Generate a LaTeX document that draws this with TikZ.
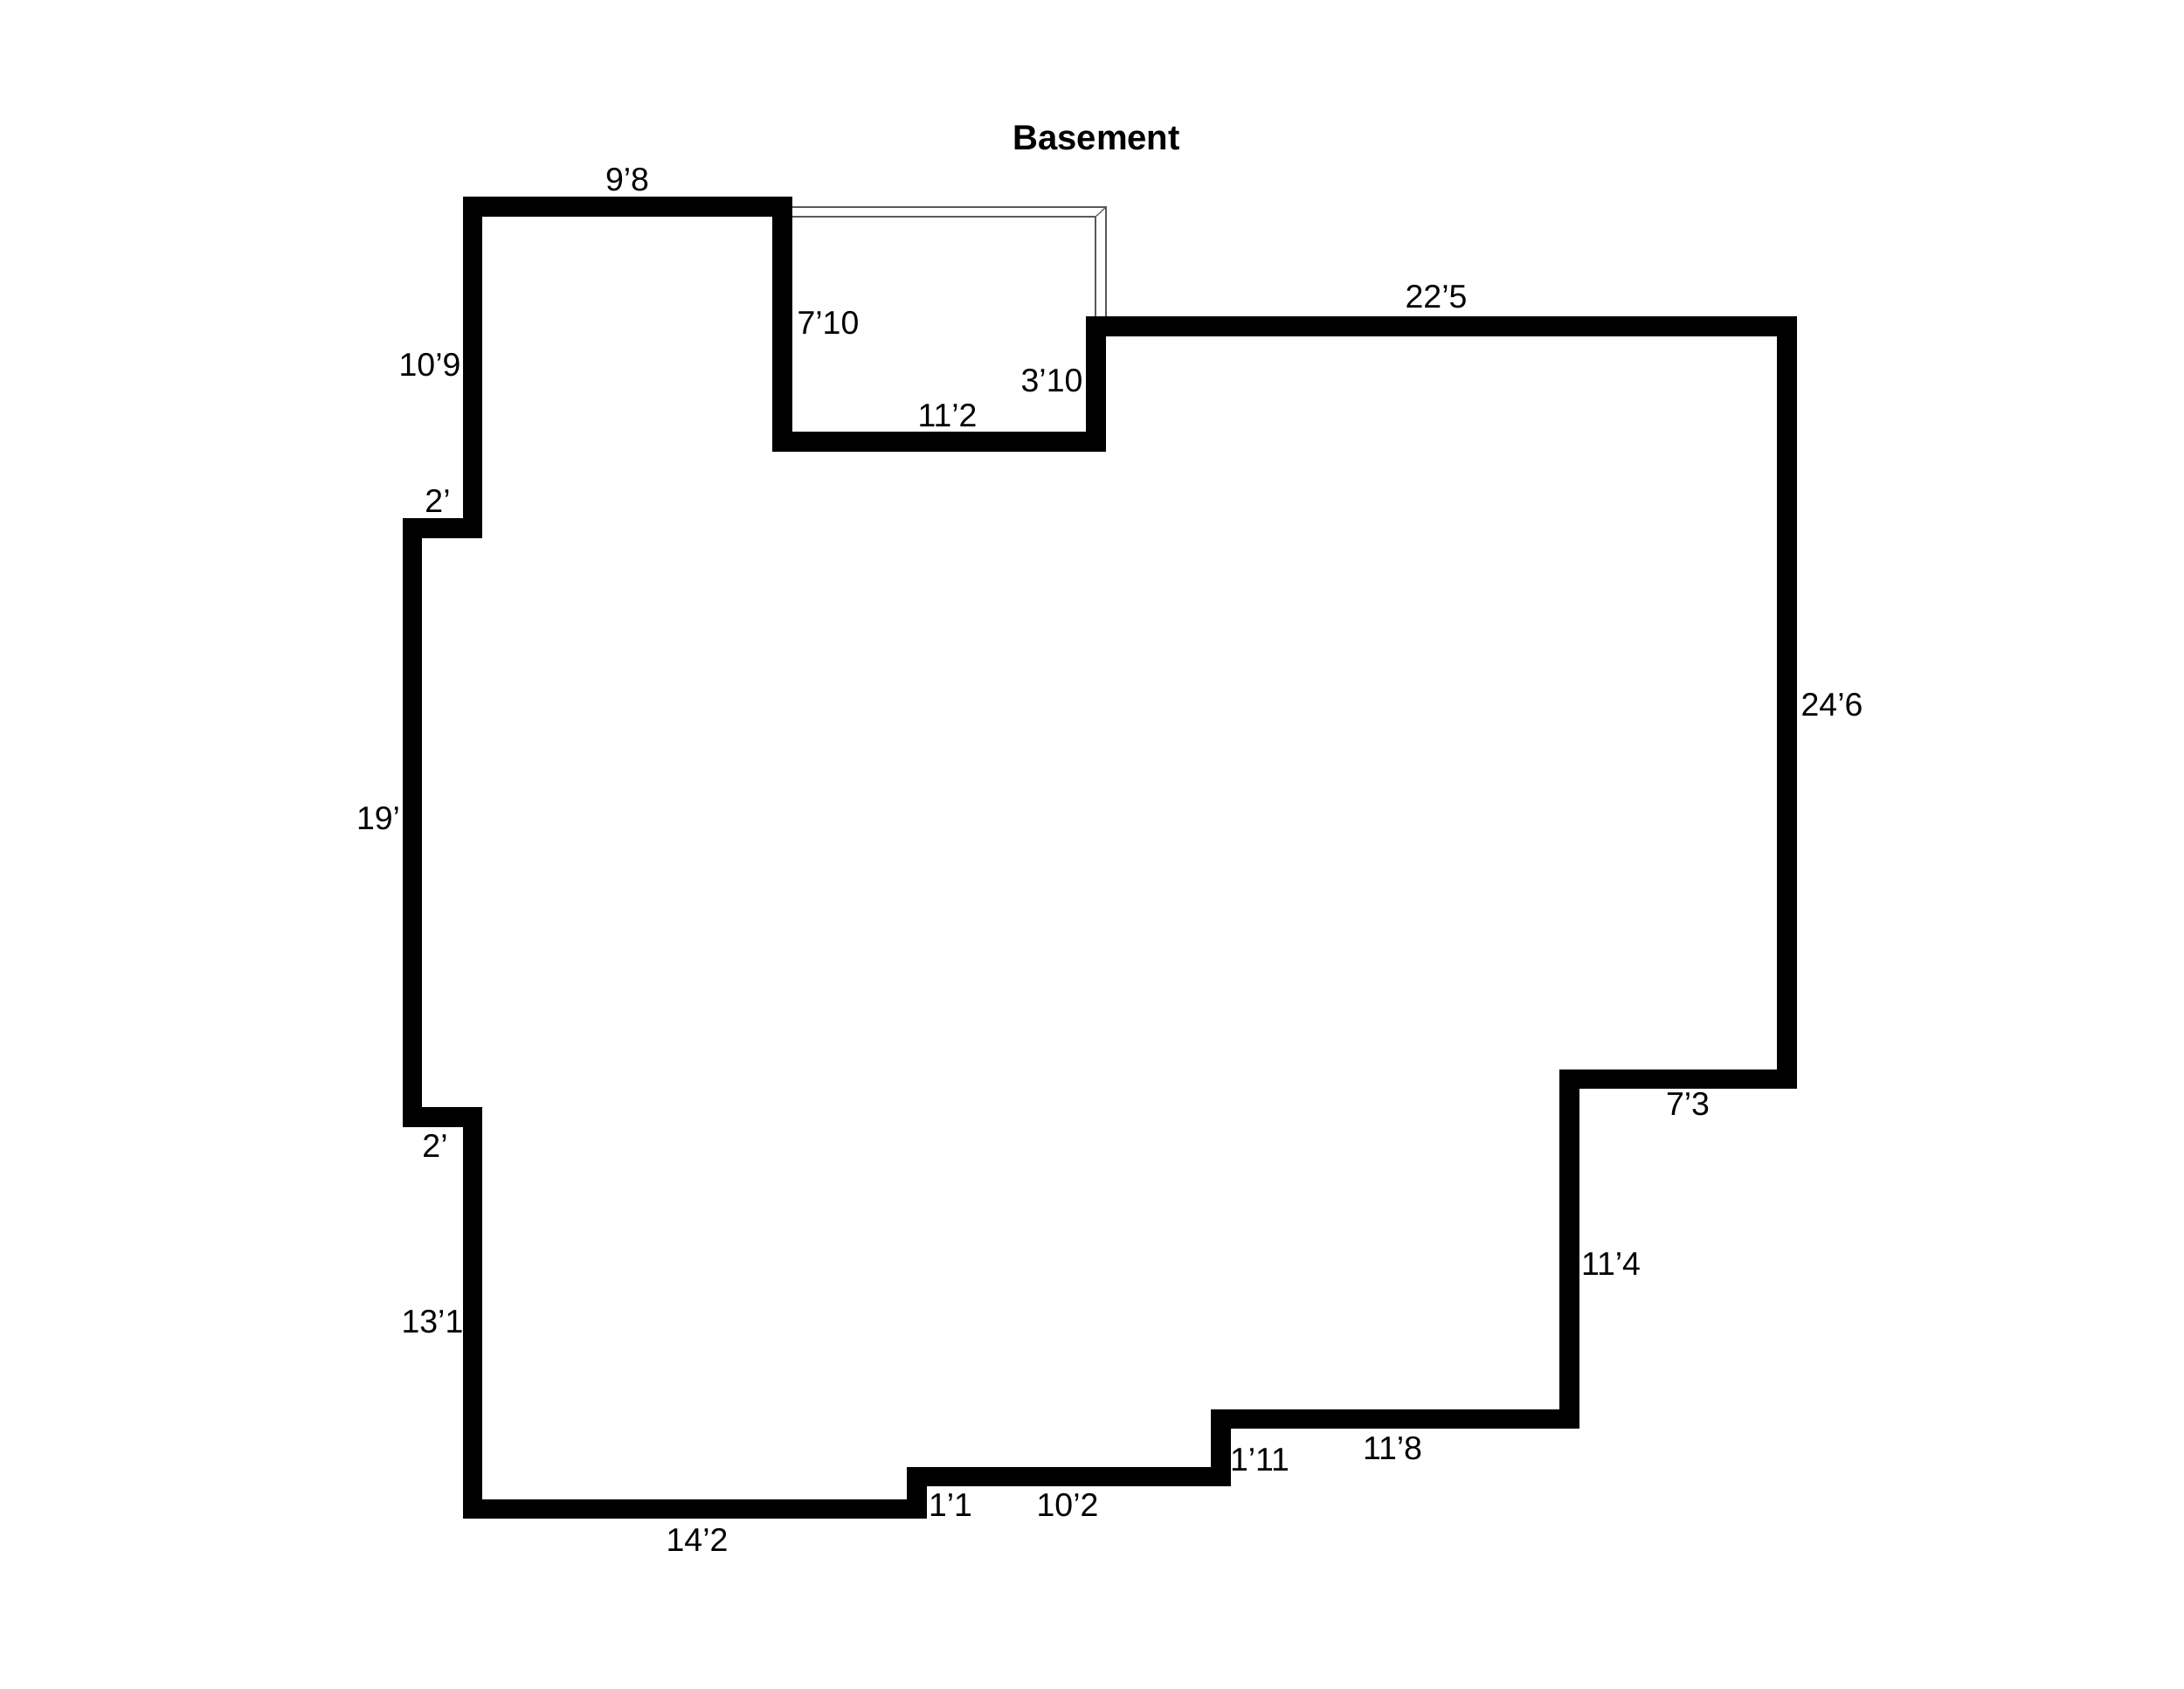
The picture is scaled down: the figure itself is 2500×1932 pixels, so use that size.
\documentclass[tikz,border=0pt]{standalone}
\usepackage{fontspec}
\setmainfont{Liberation Sans}
\usepackage{tikz}
\usetikzlibrary{calc}

\begin{document}
\begin{tikzpicture}[x=0.01cm, y=-0.01cm, wall_line/.style={line width=0.228cm,black,line join=miter}, thin_line/.style={line width=0.012cm,black!65}, dim_label/.style={inner sep=0pt,font=\fontsize{10.65pt}{12pt}\selectfont}, title_label/.style={inner sep=0pt,font=\fontsize{11.4pt}{13pt}\selectfont\bfseries}]
			
			\useasboundingbox (0,0) rectangle (2500,1932);
			
			\coordinate (c1) at (541,236.5);
			\coordinate (c2) at (895.5,236.5);
			\coordinate (c3) at (895.5,505.5);
			\coordinate (c4) at (1254.5,505.5);
			\coordinate (c5) at (1254.5,373.7);
			\coordinate (c6) at (2045.7,373.7);
			\coordinate (c7) at (2045.7,1235);
			\coordinate (c8) at (1796.7,1235);
			\coordinate (c9) at (1796.7,1624);
			\coordinate (c10) at (1397.5,1624);
			\coordinate (c11) at (1397.5,1690);
			\coordinate (c12) at (1049.5,1690);
			\coordinate (c13) at (1049.5,1727);
			\coordinate (c14) at (541,1727);
			\coordinate (c15) at (541,1278.5);
			\coordinate (c16) at (472,1278.5);
			\coordinate (c17) at (472,604.5);
			\coordinate (c18) at (541,604.5);
			
			\coordinate (b1) at (907,237);
			\coordinate (b2) at (1266,237);
			\coordinate (b3) at (1266,363);
			\coordinate (b4) at (907,248);
			\coordinate (b5) at (1254,248);
			\coordinate (b6) at (1254,363);
			
			\draw[thin_line] (b1) -- (b2) -- (b3);
			\draw[thin_line] (b4) -- (b5) -- (b6);
			\draw[thin_line] (b2) -- (b5);
			
			\draw[wall_line] (c1) -- (c2) -- (c3) -- (c4) -- (c5) -- (c6) -- (c7) -- (c8) -- (c9) -- (c10) -- (c11) -- (c12) -- (c13) -- (c14) -- (c15) -- (c16) -- (c17) -- (c18) -- cycle;
			
			\node[title_label] (title) at (1255,158) {Basement};
			\node[dim_label] (d1) at (718,206) {9’8};
			\node[dim_label] (d2) at (492,418) {10’9};
			\node[dim_label] (d3) at (501,573) {2’};
			\node[dim_label] (d4) at (948,369.5) {7’10};
			\node[dim_label] (d5) at (1204,435.5) {3’10};
			\node[dim_label] (d6) at (1084.5,475.5) {11’2};
			\node[dim_label] (d7) at (1644,340) {22’5};
			\node[dim_label] (d8) at (2097,807) {24’6};
			\node[dim_label] (d9) at (433,937) {19’};
			\node[dim_label] (d10) at (498,1311) {2’};
			\node[dim_label] (d11) at (1932,1264) {7’3};
			\node[dim_label] (d12) at (1844,1447) {11’4};
			\node[dim_label] (d13) at (495,1513) {13’1};
			\node[dim_label] (d14) at (798,1762) {14’2};
			\node[dim_label] (d15) at (1088,1723) {1’1};
			\node[dim_label] (d16) at (1222,1723) {10’2};
			\node[dim_label] (d17) at (1442,1671) {1’11};
			\node[dim_label] (d18) at (1594,1658) {11’8};
		\end{tikzpicture}
\end{document}
